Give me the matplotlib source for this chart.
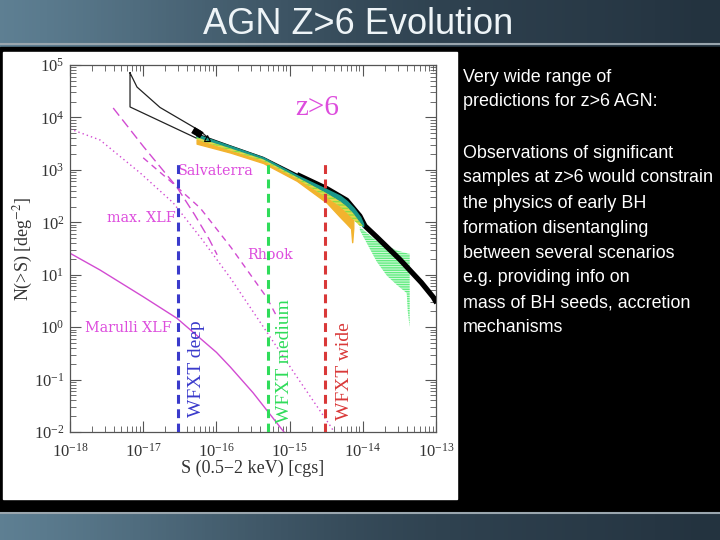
import numpy as np
import matplotlib
matplotlib.use("Agg")
import matplotlib.pyplot as plt
from matplotlib.patches import Rectangle

plt.rcParams['font.family'] = ['Liberation Serif', 'DejaVu Serif']
plt.rcParams['mathtext.fontset'] = 'stix'
plt.rcParams['hatch.linewidth'] = 1.0

# ---------------- data (log10 S, log10 N) ----------------
marulli_logS = [-18.0, -17.59, -17.0, -16.54, -16.0, -15.81, -15.5, -15.10, -14.9]
marulli_logN = [1.41, 1.09, 0.58, 0.17, -0.48, -0.76, -1.25, -1.96, -2.3]

maxxlf_logS = [-18.0, -17.59, -17.04, -16.59, -16.2, -15.81, -15.4, -14.9, -14.45, -14.3]
maxxlf_logN = [3.78, 3.57, 2.94, 2.37, 1.68, 0.94, 0.09, -0.95, -1.87, -2.2]

salv_logS = [-17.41, -17.0, -16.54, -16.3, -16.1, -15.99]
salv_logN = [4.18, 3.45, 2.67, 2.15, 1.68, 1.38]

rhook_logS = [-17.00, -16.6, -16.22, -15.8, -15.31, -15.17]
rhook_logN = [3.23, 2.75, 2.27, 1.52, 0.56, 0.19]

wedge_logS = [-17.18, -17.085, -16.77, -16.22, -16.13, -16.22, -17.18, -17.18]
wedge_logN = [4.85, 4.58, 4.19, 3.74, 3.63, 3.57, 4.20, 4.85]

black_logS = [-16.27, -15.81, -15.36, -14.90, -14.49, -14.22, -14.04, -13.97, -13.81, -13.67, -13.50, -13.36, -13.20, -13.04, -12.99]
black_logN = [3.68, 3.45, 3.23, 2.91, 2.64, 2.42, 2.12, 1.93, 1.72, 1.53, 1.30, 1.09, 0.85, 0.575, 0.46]

band_logS = [-16.27, -15.81, -15.36, -14.90, -14.49, -14.31, -14.22, -14.13, -14.04, -14.00]
teal_top = [3.67, 3.45, 3.23, 2.89, 2.62, 2.50, 2.40, 2.27, 2.10, 1.97]
teal_bot = [3.62, 3.41, 3.20, 2.86, 2.55, 2.40, 2.30, 2.17, 2.00, 1.93]
yg_bot = [3.58, 3.37, 3.17, 2.83, 2.47, 2.30, 2.18, 2.05, 1.93, 1.93]

orange_logS = [-16.27, -15.81, -15.36, -14.90, -14.49, -14.31, -14.22, -14.16, -14.145, -14.13]
orange_top = [3.58, 3.37, 3.17, 2.83, 2.47, 2.30, 2.18, 2.10, 2.08, 2.05]
orange_bot = [3.50, 3.33, 3.13, 2.79, 2.37, 2.10, 1.97, 1.88, 1.62, 1.89]

green_logS = [-14.04, -13.81, -13.67, -13.53, -13.40, -13.385, -13.36]
green_top = [1.91, 1.64, 1.55, 1.46, 1.41, 1.40, 1.40]
green_bot = [1.85, 1.25, 0.98, 0.80, 0.65, 0.30, 0.0]

wfxt_S = [3e-17, 5e-16, 3e-15]
wfxt_top = 1300
wfxt_names = ["WFXT deep", "WFXT medium", "WFXT wide"]
wfxt_colors = ["#3a3acb", "#2fdc5a", "#d93838"]
wfxt_label_S = [5.4e-17, 8.65e-16, 5.7e-15]
wfxt_label_N = [0.0195, 0.0148, 0.017]

xticks = [1e-18, 1e-17, 1e-16, 1e-15, 1e-14, 1e-13]
yticks = [1e-2, 1e-1, 1e0, 1e1, 1e2, 1e3, 1e4, 1e5]

text_lines = ["Very wide range of", "predictions for z>6 AGN:",
              "Observations of significant", "samples at z>6 would constrain",
              "the physics of early BH", "formation disentangling",
              "between several scenarios", "e.g. providing info on",
              "mass of BH seeds, accretion", "mechanisms"]
text_y = [77, 102, 153, 178, 203, 228, 253, 278, 303, 328]

def p(a):
    return 10 ** np.asarray(a, dtype=float)

# ---------------- figure / slide ----------------
fig = plt.figure(figsize=(7.2, 5.4), dpi=100)
W, H = 720, 540

bg = fig.add_axes([0, 0, 1, 1])
bg.set_xlim(0, 1); bg.set_ylim(0, 1); bg.axis('off')
gx = np.linspace(0, 1, 200)
gy = np.linspace(0, 1, 60)
GX, GY = np.meshgrid(gx, gy)
c_light = np.array([0.40, 0.54, 0.62])
c_dark = np.array([0.14, 0.20, 0.25])
t = np.clip(0.2 + 0.9 * GX - 0.08 * np.cos(GX * 6.0), 0, 1)[..., None]
img = c_light * (1 - t) + c_dark * t
bg.imshow(img, extent=[0, 1, 0, 1], aspect='auto', origin='lower', zorder=0)
# black content panel
bg.add_patch(Rectangle((0, 1 - 512 / H), 1, (512 - 47) / H, color='black', zorder=1))
bg.axhline(1 - 44 / H, color='#9aa6ae', lw=1.5, zorder=2)
bg.axhline(1 - 513 / H, color='#9aa6ae', lw=1.5, zorder=2)
# white chart panel
bg.add_patch(Rectangle((3 / W, 1 - 499 / H), 454 / W, 447 / H, color='white', zorder=2))

fig.text(358 / W, 1 - 25 / H, "AGN Z>6 Evolution", color='#eef4f7', fontsize=26,
         family=['Liberation Sans Narrow', 'Liberation Sans', 'DejaVu Sans'],
         ha='center', va='center')
for line, yy in zip(text_lines, text_y):
    fig.text(463 / W, 1 - yy / H, line, color='white', fontsize=12.9,
             family=['Liberation Sans', 'DejaVu Sans'], ha='left', va='center')

# ---------------- chart ----------------
ax = fig.add_axes([70 / W, 1 - 432 / H, 366 / W, 367 / H])
ax.set_xscale('log'); ax.set_yscale('log')
ax.set_xlim(1e-18, 1e-13); ax.set_ylim(1e-2, 1e5)

mag = '#d24bd2'
ax.plot(p(marulli_logS), p(marulli_logN), color=mag, lw=1.0)
ax.plot(p(maxxlf_logS), p(maxxlf_logN), color=mag, lw=1.0, ls=(0, (1, 2.2)))
ax.plot(p(salv_logS), p(salv_logN), color=mag, lw=1.0, ls=(0, (7, 3.5)))
ax.plot(p(rhook_logS), p(rhook_logN), color=mag, lw=1.0, ls=(0, (4.5, 3.5)))

ax.plot(p(wedge_logS), p(wedge_logN), color='#222222', lw=0.9)

ax.plot(p(black_logS[:4]), p(black_logN[:4]), color='black', lw=1.5, zorder=3)
ax.plot(p(black_logS[3:]), p(black_logN[3:]), color='black', lw=3.8, solid_capstyle='butt', zorder=3)
ax.fill_between(p(band_logS), p(teal_bot), p(teal_top), color='#1a978a', lw=1.5, edgecolor='#1a978a', zorder=4)
ax.fill_between(p(orange_logS), p(orange_bot), p(orange_top), color='#f2b32e', lw=1.0, edgecolor='#f2b32e', zorder=4)
ax.fill_between(p(band_logS), p(yg_bot), p(teal_bot), facecolor='#e3d94a', edgecolor='#8fdc40',
                hatch='-----', lw=0, zorder=5)
ax.fill_between(p(green_logS), p(green_bot), p(green_top), facecolor='#d8fbe0', edgecolor='#62ec80',
                hatch='-------', lw=0, zorder=2)
ax.plot(p([-16.32, -16.20]), p([3.76, 3.66]), color='black', lw=5, solid_capstyle='butt', zorder=6)
ax.plot([10 ** -16.13], [10 ** 3.60], marker='^', mfc='none', mec='black', ms=5, mew=0.8, zorder=6)

for s, c in zip(wfxt_S, wfxt_colors):
    ax.plot([s, s], [1e-2, wfxt_top], color=c, lw=2.2, ls=(0, (2.9, 1.8)), zorder=6)
for name, c, xs, ys in zip(wfxt_names, wfxt_colors, wfxt_label_S, wfxt_label_N):
    ax.text(xs, ys, name, color=c, fontsize=14, rotation=90, ha='center', va='bottom')

lab = dict(color='#dd4ddd', fontsize=10.3, family=['DejaVu Serif'], va='center', ha='left')
ax.text(10 ** -16.525, 10 ** 2.98, "Salvaterra", **lab)
ax.text(10 ** -17.495, 10 ** 2.08, "max. XLF", **lab)
ax.text(10 ** -15.582, 10 ** 1.376, "Rhook", **lab)
ax.text(10 ** -17.795, 10 ** -0.016, "Marulli XLF", **lab)
ax.text(10 ** -14.626, 10 ** 4.18, "z>6", color='#dd4ddd', fontsize=21, ha='center', va='center')

ax.set_xticks(xticks); ax.set_yticks(yticks)
ax.tick_params(which='both', direction='in', top=True, right=True, colors='#555555',
               labelcolor='#333333', labelsize=12)
ax.tick_params(which='major', length=8, width=0.8)
ax.tick_params(which='minor', length=4, width=0.6)
ax.tick_params(axis='x', pad=7.5)
ax.tick_params(axis='y', pad=4)
for sp in ax.spines.values():
    sp.set_color('#555555'); sp.set_linewidth(0.9)

ax.set_xlabel("S (0.5\u22122 keV) [cgs]", fontsize=13, color='#333333')
ax.set_ylabel("N(>S) [deg$^{-2}$]", fontsize=13, color='#333333')
ax.xaxis.set_label_coords(0.5, -0.1)
ax.xaxis.label.set_va('center')
ax.yaxis.set_label_coords(-0.127, 0.5)
ax.yaxis.label.set_va('center')

fig.savefig("out.png", dpi=100)
